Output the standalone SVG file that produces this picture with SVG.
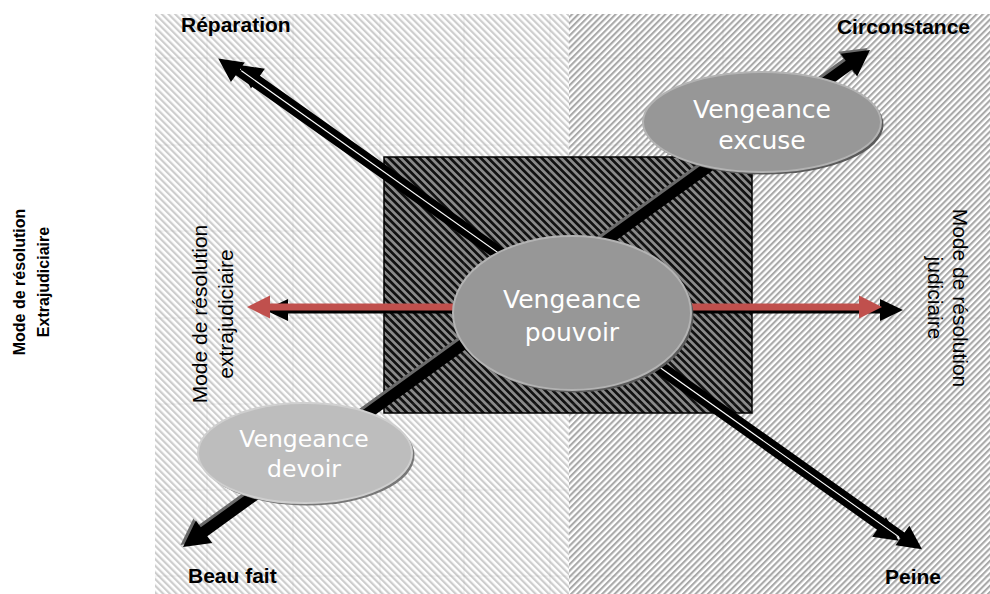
<svg xmlns="http://www.w3.org/2000/svg" width="990" height="594" viewBox="0 0 990 594">
<defs>
<pattern id="pLeft" patternUnits="userSpaceOnUse" width="4.7" height="20" patternTransform="rotate(-45)">
<rect width="4.7" height="20" fill="#ffffff"/><rect width="2.2" height="20" fill="#cdcdcd"/>
</pattern>
<pattern id="pRight" patternUnits="userSpaceOnUse" width="4.4" height="20" patternTransform="rotate(45)">
<rect width="4.4" height="20" fill="#ffffff"/><rect width="2.1" height="20" fill="#a9a9a9"/>
</pattern>
<pattern id="pBox" patternUnits="userSpaceOnUse" width="5.4" height="20" patternTransform="rotate(-45)">
<rect width="5.4" height="20" fill="#111111"/><rect x="2.7" width="2.7" height="20" fill="#8a8a8a"/>
</pattern>
<style>
.lbl{font-family:"Liberation Sans",Arial,sans-serif;font-weight:bold;font-size:21px;fill:#000}
.vt{font-family:"Liberation Sans",Arial,sans-serif;font-size:21px;fill:#000;text-anchor:middle}
.side{font-family:"Liberation Sans",Arial,sans-serif;font-weight:bold;font-size:16px;fill:#000;text-anchor:middle}
.ell{font-family:"DejaVu Sans",Verdana,sans-serif;fill:#ffffff;text-anchor:middle}
.seam{stroke:#8c8c8c;stroke-width:1;opacity:0.15}
</style>
</defs>
<g id="background">
<rect x="155" y="14" width="414" height="580" fill="url(#pLeft)"/>
<rect x="569" y="14" width="421" height="580" fill="url(#pRight)"/>
</g>
<g id="center-box">
<rect x="384" y="157" width="368" height="256" fill="url(#pBox)" stroke="#000" stroke-width="1.5"/>
</g>
<g id="seams">
<line class="seam" x1="207" y1="14" x2="207" y2="594"/>
<line class="seam" x1="293" y1="14" x2="293" y2="594"/>
<line class="seam" x1="380" y1="14" x2="380" y2="594"/>
<line class="seam" x1="464" y1="14" x2="464" y2="594"/>
<line class="seam" x1="550" y1="14" x2="550" y2="594"/>
<line class="seam" x1="637" y1="14" x2="637" y2="594"/>
<line class="seam" x1="723" y1="14" x2="723" y2="594"/>
<line class="seam" x1="810" y1="14" x2="810" y2="594"/>
<line class="seam" x1="896" y1="14" x2="896" y2="594"/>
<line class="seam" x1="155" y1="58" x2="990" y2="58"/>
<line class="seam" x1="155" y1="145" x2="990" y2="145"/>
<line class="seam" x1="155" y1="231" x2="990" y2="231"/>
<line class="seam" x1="155" y1="318" x2="990" y2="318"/>
<line class="seam" x1="155" y1="404" x2="990" y2="404"/>
<line class="seam" x1="155" y1="490" x2="990" y2="490"/>
<line class="seam" x1="155" y1="576" x2="990" y2="576"/>
</g>
<g id="connectors">
<g id="arrow-circonstance-beaufait">
<g transform="translate(-2.5,-2)"><polygon transform="translate(183,547) rotate(-35.89)" fill="#6a6a6a" points="0,0 26,-14 26,-5.5 822,-5.5 822,-14 848,0 822,14 822,5.5 26,5.5 26,14"/></g>
<polygon transform="translate(183,547) rotate(-35.89)" fill="#000" points="0,0 26,-14 26,-5.5 822,-5.5 822,-14 848,0 822,14 822,5.5 26,5.5 26,14"/>
</g>
<g id="arrow-reparation-peine" transform="translate(220,56) rotate(35.33)">
<polygon fill="#000" points="0,3 24,-9 24,-0.5 810,-0.5 810,-9 834,3 810,15 810,6.5 24,6.5 24,15"/>
<polygon fill="#000" points="20,-3.5 44,-15.5 44,-7 834,-7 834,-15.5 858,-3.5 834,8.5 834,0 44,0 44,8.5"/>
<line x1="26" y1="-0.3" x2="832" y2="-0.3" stroke="#ffffff" stroke-width="1.1"/>
</g>
<g id="arrow-judiciaire-black">
<polygon fill="#000" points="265,310 288,299 288,306.5 880,306.5 880,299 903,310 880,321 880,313.5 288,313.5 288,321"/>
</g>
<g id="arrow-red">
<polygon fill="#C0504D" points="247,307 270,295.5 270,303.5 859,303.5 859,295.5 882,307 859,318.5 859,310.5 270,310.5 270,318.5"/>
</g>
</g>
<g id="node-pouvoir">
<ellipse cx="574.5" cy="315.5" rx="119" ry="77" fill="#5a5a5a"/>
<ellipse cx="572" cy="313" rx="119" ry="77" fill="#979797" stroke="#b3b3b3" stroke-width="2"/>
<text class="ell" x="572" y="308" font-size="25">Vengeance</text>
<text class="ell" x="572" y="341" font-size="25">pouvoir</text>
</g>
<g id="node-excuse">
<ellipse cx="764.5" cy="124.5" rx="119" ry="50" fill="#5a5a5a"/>
<ellipse cx="762" cy="122" rx="119" ry="50" fill="#979797" stroke="#b3b3b3" stroke-width="2"/>
<text class="ell" x="762" y="118" font-size="25">Vengeance</text>
<text class="ell" x="762" y="149" font-size="25">excuse</text>
</g>
<g id="node-devoir">
<ellipse cx="307.5" cy="455.5" rx="107" ry="50" fill="#777777"/>
<ellipse cx="305" cy="453" rx="107" ry="50" fill="#bdbdbd" stroke="#cfcfcf" stroke-width="2"/>
<text class="ell" x="304" y="447" font-size="23.5" fill="#f4f4f4">Vengeance</text>
<text class="ell" x="304" y="477" font-size="23.5" fill="#f4f4f4">devoir</text>
</g>
<g id="labels">
<text class="lbl" x="181" y="32">Réparation</text>
<text class="lbl" x="970" y="34" text-anchor="end">Circonstance</text>
<text class="lbl" x="188" y="583">Beau fait</text>
<text class="lbl" x="885" y="584">Peine</text>
<g transform="translate(207,314) rotate(-90)">
<text class="vt" x="0" y="0">Mode de résolution</text>
<text class="vt" x="0" y="26">extrajudiciaire</text>
</g>
<g transform="translate(953,298) rotate(90)">
<text class="vt" x="0" y="0">Mode de résolution</text>
<text class="vt" x="0" y="25">judiciaire</text>
</g>
<g transform="translate(25,282) rotate(-90)">
<text class="side" x="0" y="0">Mode de résolution</text>
<text class="side" x="0" y="24">Extrajudiciaire</text>
</g>
</g>
</svg>
